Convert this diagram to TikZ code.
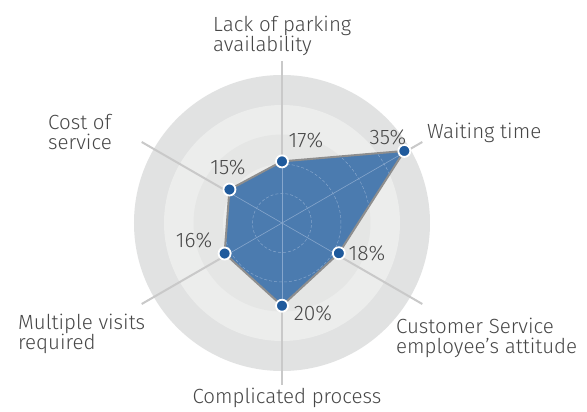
\documentclass[tikz,border=0pt]{standalone}
\usepackage{fontspec}
\setmainfont{Fira Sans}[UprightFont=* Light]
\usetikzlibrary{positioning}

\definecolor{bandouter}{HTML}{E1E2E2}
\definecolor{bandlight}{HTML}{ECEDEC}
\definecolor{bandmid}{HTML}{E5E6E5}
\definecolor{axisgray}{HTML}{C9C9C9}
\definecolor{areablue}{HTML}{4B7BAF}
\definecolor{edgegray}{HTML}{8E8E8E}
\definecolor{gridblue}{HTML}{86A6CC}
\definecolor{dotblue}{HTML}{1F5A9C}
\definecolor{txtgray}{HTML}{474747}

\begin{document}
\begin{tikzpicture}[x=1pt,y=1pt,
    axisline/.style={draw=axisgray,line width=2pt},
    lbl/.style={text=txtgray,font=\fontsize{20.5}{20}\selectfont,align=left,inner sep=0pt},
    pct/.style={text=txtgray,font=\fontsize{21}{20}\selectfont,inner sep=0pt},
    dot/.style={circle,fill=dotblue,draw=white,line width=1.8pt,minimum size=12pt,inner sep=0pt}]
	\useasboundingbox[fill=white] (-282,-189) rectangle (305,223);
	\coordinate (O) at (0,0);
	% rings
	\fill[bandouter] (O) circle (148);
	\fill[bandlight] (O) circle (118);
	\fill[bandmid] (O) circle (88.5);
	\fill[bandlight] (O) circle (59);
	\fill[bandmid] (O) circle (29.5);
	% axes
	\foreach \a/\n in {90/top,30/wait,-30/cust,-90/proc,-150/visit,150/cost}
	  \coordinate (\n) at (\a:162);
	\foreach \n in {top,wait,cust,proc,visit,cost}
	  \draw[axisline] (O) -- (\n);
	% values
	\coordinate (p1) at (90:61.6);
	\coordinate (p2) at (30.5:142);
	\coordinate (p3) at (-28:64.4);
	\coordinate (p4) at (-90:82.7);
	\coordinate (p5) at (-152:65);
	\coordinate (p6) at (147.5:62.3);
	\filldraw[fill=areablue,draw=edgegray,line width=2pt,line join=round]
	  (p1) -- (p2) -- (p3) -- (p4) -- (p5) -- (p6) -- cycle;
	\begin{scope}
	  \clip (p1) -- (p2) -- (p3) -- (p4) -- (p5) -- (p6) -- cycle;
	  \foreach \r in {29.5,59,88.5,118}
	    \draw[gridblue,line width=0.5pt,densely dashed] (O) circle (\r);
	  \foreach \n in {top,wait,cust,proc,visit,cost}
	    \draw[gridblue,line width=0.6pt] (O) -- (\n);
	\end{scope}
	\foreach \i in {1,...,6}
	  \node[dot] (d\i) at (p\i) {};
	% percentages
	\node[pct] (v1) at (24,83) {17\%};
	\node[pct] (v2) at (106,86) {35\%};
	\node[pct] (v3) at (85,-30) {18\%};
	\node[pct] (v4) at (31,-90) {20\%};
	\node[pct] (v5) at (-88,-17) {16\%};
	\node[pct] (v6) at (-54,56) {15\%};
	% category names
	\node[lbl,anchor=west] (c1) at (-69,187) {Lack of parking\\availability};
	\node[lbl,anchor=west] (c2) at (145,90) {Waiting time};
	\node[lbl,anchor=west] (c3) at (114,-115) {Customer Service\\employee’s attitude};
	\node[lbl] (c4) at (5,-175) {Complicated process};
	\node[lbl,anchor=west] (c5) at (-264,-111) {Multiple visits\\required};
	\node[lbl,anchor=west] (c6) at (-234,91) {Cost of\\service};
\end{tikzpicture}
\end{document}
